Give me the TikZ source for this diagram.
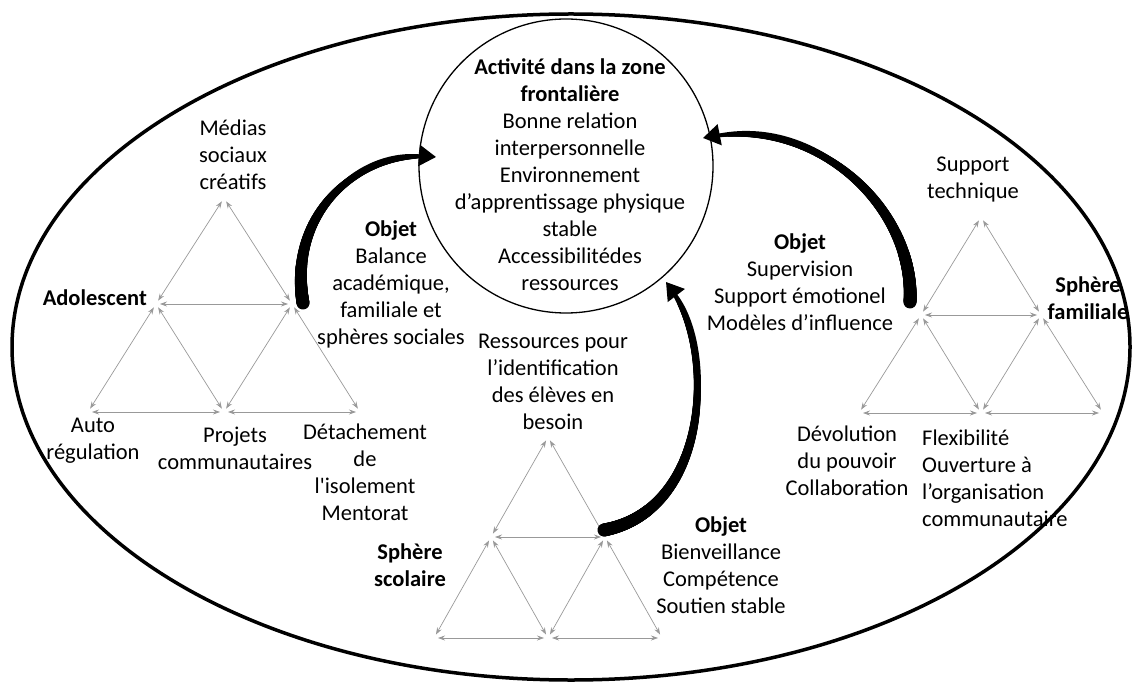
\documentclass[tikz,border=0pt]{standalone}
\usepackage{fontspec}
\setmainfont{Carlito}
\usetikzlibrary{arrows.meta,decorations.markings}

\tikzset{
  link/.style={<->, >={Stealth[length=7pt,width=5pt]}, draw=gray!80, line width=0.7pt, shorten <=4pt, shorten >=4pt},
  lbl/.style={align=center, font=\fontsize{22.5}{27}\selectfont, inner sep=0pt},
  ttl/.style={lbl, font=\fontsize{22.5}{27}\selectfont\bfseries},
  bigarrow/.style={line width=2.5pt, -{Triangle[length=17pt,width=21pt]},
    postaction={decorate, decoration={markings,
      mark=between positions 0 and 0.93 step 0.5pt with {
        \pgfmathsetmacro\tw{6.5-5*\pgfkeysvalueof{/pgf/decoration/mark info/distance from start}/\pgfdecoratedpathlength}
        \fill (0,0) circle (\tw pt);}}}}
}

\begin{document}
\begin{tikzpicture}[x=1pt,y=-1pt]
	\useasboundingbox (0,0) rectangle (1139,684);
	%outer field and zone
	\draw[line width=3.5pt] (571,347) ellipse (559 and 333);
	\node[circle, draw, line width=1.3pt, minimum size=294pt] (zone) at (566,166) {};
	\node[lbl] (zonetxt) at (570,175) {\textbf{Activité dans la zone}\\\textbf{frontalière}\\Bonne relation\\interpersonnelle\\Environnement\\d’apprentissage physique\\stable\\Accessibilitédes\\ressources};

	%adolescent
	\coordinate (at) at (224,198);
	\coordinate (aml) at (156,304);
	\coordinate (amr) at (292,304);
	\coordinate (abl) at (88,412);
	\coordinate (abm) at (224,412);
	\coordinate (abr) at (360,412);
	\path (at) edge[link] (aml) (at) edge[link] (amr) (aml) edge[link] (amr);
	\path (aml) edge[link] (abl) (aml) edge[link] (abm) (abl) edge[link] (abm);
	\path (amr) edge[link] (abm) (amr) edge[link] (abr) (abm) edge[link] (abr);
	\node[lbl] (adotop) at (233,155) {Médias\\sociaux\\créatifs};
	\node[ttl, anchor=east] (adoname) at (147,298) {Adolescent};
	\node[lbl] (adobl) at (93,441) {Auto\\régulation};
	\node[lbl] (adobm) at (235,448) {Projets\\communautaires};
	\node[lbl] (adobr) at (365,472) {Détachement\\de\\l\textquotesingle isolement\\Mentorat};
	\node[lbl] (adoobj) at (391,284) {\textbf{Objet}\\Balance\\académique,\\familiale et\\sphères sociales};

	%school
	\coordinate (st) at (548,437);
	\coordinate (sml) at (491,537);
	\coordinate (smr) at (605,537);
	\coordinate (sbl) at (434,638);
	\coordinate (sbm) at (548,638);
	\coordinate (sbr) at (662,638);
	\path (st) edge[link] (sml) (st) edge[link] (smr) (sml) edge[link] (smr);
	\path (sml) edge[link] (sbl) (sml) edge[link] (sbm) (sbl) edge[link] (sbm);
	\path (smr) edge[link] (sbm) (smr) edge[link] (sbr) (sbm) edge[link] (sbr);
	\node[lbl] (schtop) at (553,382) {Ressources pour\\l’identification\\des élèves en\\besoin};
	\node[ttl] (schname) at (410,565) {Sphère\\scolaire};
	\node[lbl] (schobj) at (721,565) {\textbf{Objet}\\Bienveillance\\Compétence\\Soutien stable};

	%family
	\coordinate (ft) at (981,217);
	\coordinate (fml) at (921,315);
	\coordinate (fmr) at (1041,315);
	\coordinate (fbl) at (859,413);
	\coordinate (fbm) at (981,413);
	\coordinate (fbr) at (1103,413);
	\path (ft) edge[link] (fml) (ft) edge[link] (fmr) (fml) edge[link] (fmr);
	\path (fml) edge[link] (fbl) (fml) edge[link] (fbm) (fbl) edge[link] (fbm);
	\path (fmr) edge[link] (fbm) (fmr) edge[link] (fbr) (fbm) edge[link] (fbr);
	\node[lbl] (famtop) at (973,180) {Support\\technique};
	\node[ttl] (famname) at (1088,298) {Sphère\\familiale};
	\node[lbl] (fambl) at (847,461) {Dévolution\\du pouvoir\\Collaboration};
	\node[lbl, align=left, anchor=west] (fambr) at (922,478) {Flexibilité\\Ouverture à\\l’organisation\\communautaire};
	\node[lbl] (famobj) at (800,282) {\textbf{Objet}\\Supervision\\Support émotionel\\Modèles d’influence};

	%arrows into the zone
	\coordinate (aout) at (303,303);
	\coordinate (ain) at (436,157);
	\coordinate (fout) at (910,302);
	\coordinate (fin) at (703,138);
	\coordinate (sout) at (604,530);
	\coordinate (sin) at (666,282);
	\draw[bigarrow] (aout) .. controls (288,215) and (355,150) .. (ain);
	\draw[bigarrow] (fout) .. controls (915,210) and (820,115) .. (fin);
	\draw[bigarrow] (sout) .. controls (710,510) and (718,350) .. (sin);
\end{tikzpicture}
\end{document}
